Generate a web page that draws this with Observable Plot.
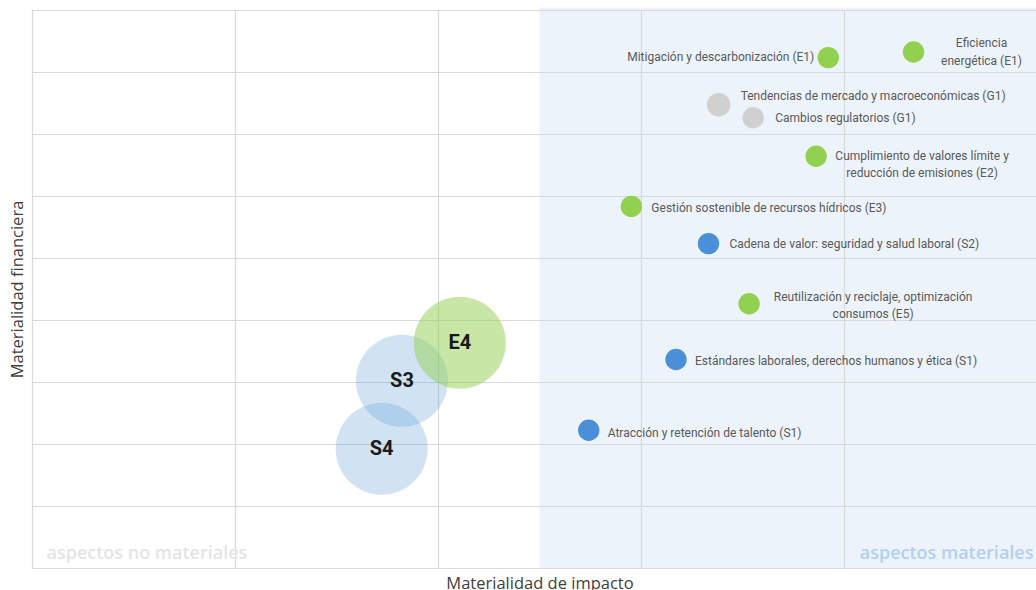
<!DOCTYPE html>
<html><head><meta charset="utf-8">
<script src="https://cdn.jsdelivr.net/npm/d3@7"></script>
<script src="https://cdn.jsdelivr.net/npm/@observablehq/plot@0.6"></script>
<style>body{margin:0;background:#fff}</style>
</head><body><div id="chart"></div>
<script>
// Temas materiales (puntos pequeños)
const temas = [
  "Mitigación y descarbonización (E1)",
  "Eficiencia\nenergética (E1)",
  "Tendencias de mercado y macroeconómicas (G1)",
  "Cambios regulatorios (G1)",
  "Cumplimiento de valores límite y\nreducción de emisiones (E2)",
  "Gestión sostenible de recursos hídricos (E3)",
  "Cadena de valor: seguridad y salud laboral (S2)",
  "Reutilización y reciclaje, optimización\nconsumos (E5)",
  "Estándares laborales, derechos humanos y ética (S1)",
  "Atracción y retención de talento (S1)"
];
const impacto    = [3.92, 4.34, 3.38, 3.55, 3.86, 2.95, 3.33, 3.53, 3.17, 2.74];
const financiera = [8.24, 8.33, 7.48, 7.27, 6.65, 5.84, 5.24, 4.27, 3.37, 2.23];
const pilar      = ["E", "E", "G", "G", "E", "E", "S", "E", "S", "S"];
const peso       = [5.4, 5.4, 6.5, 5.4, 5.4, 5.4, 5.4, 5.4, 5.4, 5.4];

// Temas no materiales (burbujas grandes)
const temasAgregados   = ["S4", "S3", "E4"];
const impactoAgregado  = [1.72, 1.82, 2.105];
const financieraAgreg  = [1.93, 3.03, 3.64];
const pilarAgregado    = ["S", "S", "E"];
const pesoAgregado     = [100, 100, 100];

const umbral = 2.5;           // umbral de materialidad de impacto
const xTicks = [0, 1, 2, 3, 4];
const yTicks = [0, 1, 2, 3, 4, 5, 6, 7, 8, 9];

// estilos
const colorPunto = {E: "#92d050", S: "#4a90d9", G: "#d0d0d0"};
const colorBurbuja = {E: "#92d050", S: "#5b9bd5"};
const opacidadBurbuja = {E: 0.5, S: 0.28};
const colocacion = [
  {anchor: "end", dx: -14, dy: -2.5},
  {anchor: "middle", dx: 68, dy: -1.5},
  {anchor: "start", dx: 22, dy: -10},
  {anchor: "start", dx: 22, dy: -1.5},
  {anchor: "middle", dx: 106, dy: 7},
  {anchor: "start", dx: 20, dy: 0.5},
  {anchor: "start", dx: 21, dy: -1},
  {anchor: "middle", dx: 124, dy: 0},
  {anchor: "start", dx: 19, dy: 0},
  {anchor: "start", dx: 19, dy: 1.5}
];

const puntos = temas.map((t, i) => ({tema: t, x: impacto[i], y: financiera[i], pilar: pilar[i], peso: peso[i], ...colocacion[i]}));
const burbujas = temasAgregados.map((t, i) => ({tema: t, x: impactoAgregado[i], y: financieraAgreg[i], pilar: pilarAgregado[i], peso: pesoAgregado[i]}));

const W = 1036, marginLeft = 32, colPx = 203;
const xMax = (W - marginLeft) / colPx;

const chart = Plot.plot({
  width: W,
  height: 590,
  marginLeft: marginLeft,
  marginRight: 0,
  marginTop: 10,
  marginBottom: 22,
  style: {fontFamily: "Roboto", background: "#fff"},
  x: {domain: [0, xMax], axis: null},
  y: {domain: [0, 9], axis: null},
  r: {type: "sqrt", domain: [0, 100], range: [0, 46]},
  marks: [
    Plot.rect([{}], {x1: umbral, x2: xMax, y1: 0, y2: 9.04, fill: "#edf3fb"}),
    Plot.ruleX(xTicks, {stroke: "#d9d9d9", strokeWidth: 1.2}),
    Plot.ruleY(yTicks, {stroke: "#d9d9d9", strokeWidth: 1.2}),
    Plot.text(["aspectos no materiales"], {frameAnchor: "bottom-left", dx: 14, dy: -10, lineAnchor: "bottom", textAnchor: "start", fill: "#e4e4e4", fontSize: 18, fontWeight: 600, fontFamily: "Open Sans"}),
    Plot.text(["aspectos materiales"], {frameAnchor: "bottom-right", dx: -3, dy: -10, lineAnchor: "bottom", textAnchor: "end", fill: "#b4cff0", fontSize: 18, fontWeight: 600, fontFamily: "Open Sans"}),
    Plot.dot(burbujas, {x: "x", y: "y", r: "peso", fill: d => colorBurbuja[d.pilar], fillOpacity: d => opacidadBurbuja[d.pilar], stroke: null, sort: null}),
    Plot.text(burbujas, {x: "x", y: "y", text: "tema", fontSize: 20, fontWeight: "bold", fill: "#1a1a1a", fontFamily: "Roboto"}),
    Plot.dot(puntos, {x: "x", y: "y", r: "peso", fill: d => colorPunto[d.pilar], stroke: null, sort: null}),
    ...puntos.map(d => Plot.text([d], {x: "x", y: "y", text: "tema", textAnchor: d.anchor, dx: d.dx, dy: d.dy, fontSize: 12, lineHeight: 1.45, fill: "#595959"})),
    Plot.text(["Materialidad de impacto"], {x: umbral, frameAnchor: "bottom", dy: 20, lineAnchor: "bottom", fontSize: 16.5, fill: "#404040", fontFamily: "Open Sans"}),
    Plot.text(["Materialidad financiera"], {frameAnchor: "left", dx: -15, rotate: -90, textAnchor: "middle", fontSize: 16.5, fill: "#404040", fontFamily: "Open Sans"})
  ]
});
document.getElementById("chart").appendChild(chart);
</script>
</body></html>
